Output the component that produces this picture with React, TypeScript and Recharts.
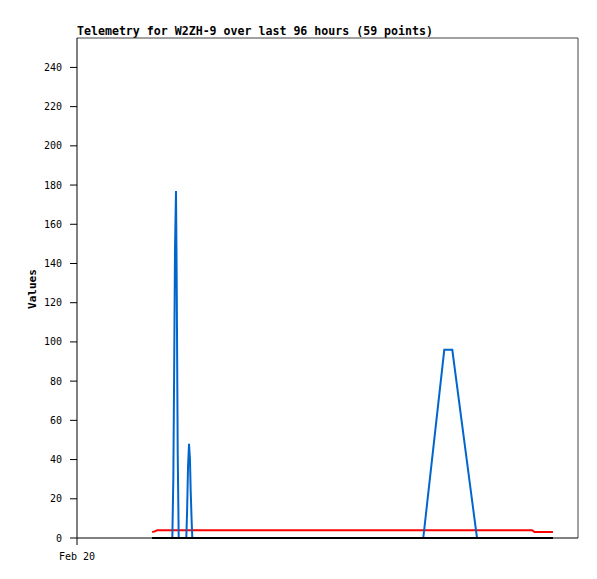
import React from "react";
import { LineChart, Line, XAxis, YAxis, ReferenceLine } from "recharts";

// hours since Feb 20 00:00
const hours = [
  18.0, 18.8, 19.2, 20.8, 22.83, 23.07, 23.28, 23.47, 23.71, 23.88, 24.12, 24.36,
  26.18, 26.35, 26.59, 26.83, 27.06, 27.23, 27.47, 27.62,
  29, 31, 33, 35, 37, 39, 41, 43, 45, 47, 49, 51, 53, 55, 57, 59, 61, 63, 65, 67,
  69, 71, 73, 75, 77, 79, 81,
  82.94, 87.97, 89.89, 95.81,
  98, 100, 102, 104, 106, 109.0, 109.6, 114.0,
];

const signal = [
  0, 0, 0, 0, 0, 30, 88, 147, 177, 132, 44, 0,
  0, 12, 36, 48, 40, 24, 8, 0,
  0, 0, 0, 0, 0, 0, 0, 0, 0, 0, 0, 0, 0, 0, 0, 0, 0, 0, 0, 0,
  0, 0, 0, 0, 0, 0, 0,
  0, 96, 96, 0,
  0, 0, 0, 0, 0, 0, 0, 0,
];

const level = [
  3, 3.5, 4, 4, 4, 4, 4, 4, 4, 4, 4, 4,
  4, 4, 4, 4, 4, 4, 4, 4,
  4, 4, 4, 4, 4, 4, 4, 4, 4, 4, 4, 4, 4, 4, 4, 4, 4, 4, 4, 4,
  4, 4, 4, 4, 4, 4, 4,
  4, 4, 4, 4,
  4, 4, 4, 4, 4, 4, 3, 3,
];

const base = hours.map(() => 0);

const yTicks = [0, 20, 40, 60, 80, 100, 120, 140, 160, 180, 200, 220, 240];
const xTicks = [0];
const xTickLabels = ["Feb 20"];

const data = hours.map((h, i) => ({
  t: h,
  signal: signal[i],
  level: level[i],
  base: base[i],
}));

const mono = "'DejaVu Sans Mono', monospace";

export default function App() {
  return (
    <div style={{ position: "absolute", left: 0, top: 0, width: 597, height: 579, background: "#fff" }}>
      <div
        style={{
          position: "absolute",
          left: 77,
          top: 24,
          fontFamily: mono,
          fontWeight: "bold",
          fontSize: 11.6,
          color: "#000",
          whiteSpace: "nowrap",
        }}
      >
        Telemetry for W2ZH-9 over last 96 hours (59 points)
      </div>
      <div
        style={{
          position: "absolute",
          left: 32,
          top: 289,
          transform: "translate(-50%, -50%) rotate(-90deg)",
          fontFamily: mono,
          fontWeight: "bold",
          fontSize: 11,
          color: "#000",
          whiteSpace: "nowrap",
        }}
      >
        Values
      </div>
      <LineChart
        width={597}
        height={579}
        data={data}
        margin={{ top: 38, right: 19, left: 17, bottom: 21 }}
      >
        <XAxis
          dataKey="t"
          type="number"
          domain={[0, 120]}
          ticks={xTicks}
          tickFormatter={(v: number) => xTickLabels[xTicks.indexOf(v)] ?? ""}
          height={20}
          tickSize={7}
          tickMargin={8}
          tick={{ fontFamily: mono, fontSize: 10, fill: "#000" }}
          axisLine={{ stroke: "#000" }}
          tickLine={{ stroke: "#000" }}
        />
        <YAxis
          domain={[0, 255]}
          ticks={yTicks}
          width={60}
          tickSize={7}
          tickMargin={8}
          tick={{ fontFamily: mono, fontSize: 10, fill: "#000" }}
          axisLine={{ stroke: "#000" }}
          tickLine={{ stroke: "#000" }}
        />
        <ReferenceLine y={255} stroke="#444" strokeWidth={1} />
        <ReferenceLine x={120} stroke="#444" strokeWidth={1} />
        <Line
          type="linear"
          dataKey="level"
          stroke="#ff0000"
          strokeWidth={2}
          dot={false}
          isAnimationActive={false}
        />
        <Line
          type="linear"
          dataKey="signal"
          stroke="#0066cc"
          strokeWidth={2}
          dot={false}
          isAnimationActive={false}
        />
        <Line
          type="linear"
          dataKey="base"
          stroke="#000"
          strokeWidth={2}
          dot={false}
          isAnimationActive={false}
        />
      </LineChart>
    </div>
  );
}
